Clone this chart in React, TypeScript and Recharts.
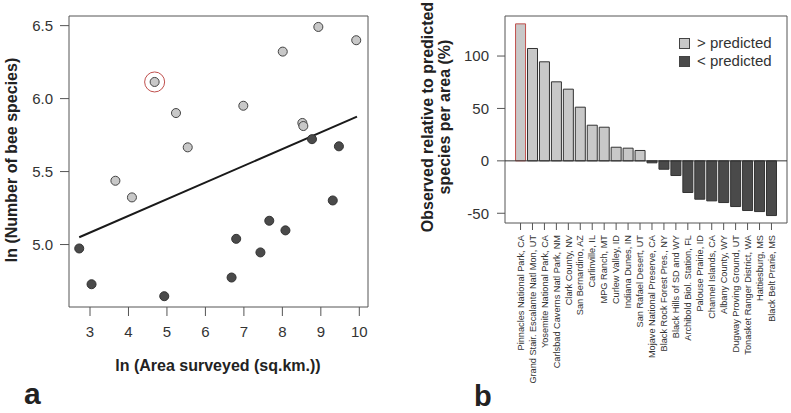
import React from 'react';
import {
  ScatterChart, Scatter, XAxis, YAxis, ZAxis, ReferenceArea, ReferenceLine, ReferenceDot,
  BarChart, Bar, Cell,
} from 'recharts';

const FONT = '"Liberation Sans", Arial, Helvetica, sans-serif';

// Panel a: ln(area) vs ln(species)
const aboveX = [8.935, 9.92, 8.01, 4.68, 5.235, 6.985, 8.52, 8.545, 5.54, 3.66, 4.09];
const aboveY = [6.491, 6.4, 6.322, 6.114, 5.901, 5.951, 5.833, 5.812, 5.666, 5.437, 5.323];
const belowX = [8.77, 9.47, 9.31, 2.72, 3.04, 4.93, 6.68, 6.8, 7.43, 7.66, 8.08];
const belowY = [5.722, 5.673, 5.302, 4.973, 4.728, 4.646, 4.774, 5.039, 4.946, 5.163, 5.097];
const fitX = [2.72, 9.94];
const fitY = [5.05, 5.876];
const highlightPoint = { x: 4.68, y: 6.114 };
const xTicksA = [3, 4, 5, 6, 7, 8, 9, 10];
const yTicksA = [5.0, 5.5, 6.0, 6.5];
const xDomainA: [number, number] = [2.454, 10.226];
const yDomainA: [number, number] = [4.572, 6.566];

// Panel b: observed relative to predicted
const sites = [
  'Pinnacles National Park, CA',
  'Grand Stair. Escalante Natl Mon, UT',
  'Yosemite National Park, CA',
  'Carlsbad Caverns Natl Park, NM',
  'Clark County, NV',
  'San Bernardino, AZ',
  'Carlinville, IL',
  'MPG Ranch, MT',
  'Curlew Valley, ID',
  'Indiana Dunes, IN',
  'San Rafael Desert, UT',
  'Mojave National Preserve, CA',
  'Black Rock Forest Pres., NY',
  'Black Hills of SD and WY',
  'Archibold Biol. Station, FL',
  'Palouse Prairie, ID',
  'Channel Islands, CA',
  'Albany County, WY',
  'Dugway Proving Ground, UT',
  'Tonasket Ranger District, WA',
  'Hattiesburg, MS',
  'Black Belt Prarie, MS',
];
const siteValues = [130.7, 107.2, 94.5, 75.4, 68.4, 51.2, 34.0, 32.1, 13.0, 12.1, 9.9,
  -1.9, -8.0, -14.0, -30.2, -36.6, -38.2, -39.8, -43.6, -47.4, -48.4, -52.2];
const yTicksB = [-50, 0, 50, 100];
const yDomainB: [number, number] = [-59.3, 138.2];
const xDomainB: [number, number] = [-0.3, 23.3];
const legendLabels = ['> predicted', '< predicted'];

const aboveData = aboveX.map((x, i) => ({ x, y: aboveY[i] }));
const belowData = belowX.map((x, i) => ({ x, y: belowY[i] }));
const barData = sites.map((site, i) => ({ idx: i + 1, site, value: siteValues[i] }));

const LIGHT = '#c8c8c8';
const DARK = '#4a4a4a';
const RED = '#c0504d';
const BOX = '#555';

const tickStyle = { fontSize: 15, fill: '#333', fontFamily: FONT };

const SiteTick = (props: any) => {
  const { x, y, payload } = props;
  const label = sites[Number(payload.value) - 1] ?? '';
  return (
    <text
      x={x}
      y={y}
      transform={`rotate(-90 ${x} ${y})`}
      textAnchor="end"
      dy="0.35em"
      fontSize={9.2}
      fill="#333"
      fontFamily={FONT}
    >
      {label}
    </text>
  );
};

export default function App() {
  return (
    <div style={{ position: 'absolute', left: 0, top: 0, width: 791, height: 413, background: '#fff', fontFamily: FONT }}>
      <div style={{ position: 'absolute', left: 0, top: 0 }}>
        <ScatterChart width={400} height={413} margin={{ top: 16, right: 32, bottom: 0, left: 0 }}>
          <XAxis
            type="number"
            dataKey="x"
            domain={xDomainA}
            ticks={xTicksA}
            allowDataOverflow
            axisLine={false}
            tickLine={{ stroke: BOX }}
            tickSize={9}
            tickMargin={10}
            height={106}
            tick={tickStyle}
          />
          <YAxis
            type="number"
            dataKey="y"
            domain={yDomainA}
            ticks={yTicksA}
            allowDataOverflow
            axisLine={false}
            tickLine={{ stroke: BOX }}
            tickSize={9}
            tickMargin={7}
            width={69}
            tick={tickStyle}
            tickFormatter={(v: number) => v.toFixed(1)}
          />
          <ZAxis range={[48, 48]} />
          <ReferenceArea x1={xDomainA[0]} x2={xDomainA[1]} y1={yDomainA[0]} y2={yDomainA[1]} fill="none" stroke={BOX} strokeWidth={1} fillOpacity={0} />
          <ReferenceLine
            segment={[{ x: fitX[0], y: fitY[0] }, { x: fitX[1], y: fitY[1] }]}
            stroke="#1a1a1a"
            strokeWidth={2}
          />
          <Scatter data={aboveData} fill={LIGHT} stroke="#444" strokeWidth={1} shape="circle" isAnimationActive={false} />
          <Scatter data={belowData} fill={DARK} stroke="#333" strokeWidth={1} shape="circle" isAnimationActive={false} />
          <ReferenceDot x={highlightPoint.x} y={highlightPoint.y} r={10} fill="none" stroke={RED} strokeWidth={1} />
        </ScatterChart>
      </div>

      <div style={{ position: 'absolute', left: 400, top: 0 }}>
        <BarChart width={391} height={413} data={barData} margin={{ top: 16, right: 4, bottom: 0, left: 0 }}>
          <XAxis
            type="number"
            dataKey="idx"
            domain={xDomainB}
            ticks={barData.map((d) => d.idx)}
            interval={0}
            allowDataOverflow
            axisLine={false}
            tickLine={{ stroke: BOX }}
            tickSize={7}
            tickMargin={5}
            height={190}
            tick={<SiteTick />}
          />
          <YAxis
            type="number"
            domain={yDomainB}
            ticks={yTicksB}
            allowDataOverflow
            axisLine={false}
            tickLine={{ stroke: BOX }}
            tickSize={8}
            tickMargin={8}
            width={105}
            tick={tickStyle}
          />
          <ReferenceArea x1={xDomainB[0]} x2={xDomainB[1]} y1={yDomainB[0]} y2={yDomainB[1]} fill="none" stroke={BOX} strokeWidth={1} fillOpacity={0} />
          <ReferenceLine y={0} stroke="#333" strokeWidth={1} />
          <Bar dataKey="value" barSize={10} isAnimationActive={false}>
            {barData.map((d, i) => (
              <Cell
                key={d.site}
                fill={d.value > 0 ? LIGHT : DARK}
                stroke={i === 0 ? RED : '#333'}
                strokeWidth={1}
              />
            ))}
          </Bar>
        </BarChart>
      </div>

      <div style={{ position: 'absolute', left: 679, top: 34, fontSize: 15, color: '#333', lineHeight: '18px' }}>
        {legendLabels.map((l, i) => (
          <div key={l} style={{ display: 'flex', alignItems: 'center', height: 18 }}>
            <span style={{ display: 'inline-block', width: 9, height: 9, background: i === 0 ? LIGHT : DARK, border: '1px solid #444', marginRight: 7 }} />
            <span>{l}</span>
          </div>
        ))}
      </div>

      <svg width={791} height={413} style={{ position: 'absolute', left: 0, top: 0, pointerEvents: 'none' }}>
        <g fontFamily={FONT} fontWeight="bold" fill="#222">
          <text x={11} y={160} transform="rotate(-90 11 160)" textAnchor="middle" dominantBaseline="central" fontSize={16}>
            ln (Number of bee species)
          </text>
          <text x={218} y={365} textAnchor="middle" dominantBaseline="central" fontSize={16}>
            ln (Area surveyed (sq.km.))
          </text>
          <text x={24} y={404} fontSize={30}>a</text>
          <text x={474} y={406} fontSize={29}>b</text>
          <text x={427} y={117} transform="rotate(-90 427 117)" textAnchor="middle" dominantBaseline="central" fontSize={16}>
            Observed relative to predicted
          </text>
          <text x={444} y={117} transform="rotate(-90 444 117)" textAnchor="middle" dominantBaseline="central" fontSize={16}>
            species per area (%)
          </text>
        </g>
      </svg>
    </div>
  );
}
